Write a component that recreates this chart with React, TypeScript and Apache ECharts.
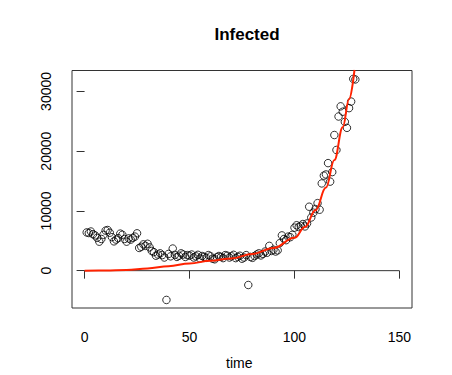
import React, { useEffect, useRef } from "react";
import * as echarts from "echarts";

const days = [
  1, 2, 3, 4, 5, 6, 7, 8, 9, 10, 11, 12, 13, 14, 15, 16, 17, 18, 19, 20,
  21, 22, 23, 24, 25, 26, 27, 28, 29, 30, 31, 32, 33, 34, 35, 36, 37, 38, 39, 40,
  41, 42, 43, 44, 45, 46, 47, 48, 49, 50, 51, 52, 53, 54, 55, 56, 57, 58, 59, 60,
  61, 62, 63, 64, 65, 66, 67, 68, 69, 70, 71, 72, 73, 74, 75, 76, 77, 78, 79, 80,
  81, 82, 83, 84, 85, 86, 87, 88, 89, 90, 91, 92, 93, 94, 95, 96, 97, 98, 99, 100,
  101, 102, 103, 104, 105, 106, 107, 108, 109, 110, 111, 112, 113, 114, 115, 116, 117, 118, 119, 120,
  121, 122, 123, 124, 125, 126, 127, 128, 129,
];

const infected = [
  6400, 6300, 6550, 6100, 5900, 5500, 4850, 5300, 6000, 6700, 6800, 6350, 5600, 4900, 5200, 5450, 6200, 6000, 5300, 4850,
  5400, 5200, 5500, 5700, 6250, 3800, 4000, 4400, 4150, 4500, 3900, 3300, 3100, 2500, 2700, 2900, 2600, 2200, -4900, 2800,
  2400, 3700, 2650, 2300, 2500, 2900, 2700, 2300, 2600, 2500, 2700, 2200, 2400, 2650, 2050, 2450, 2300, 2150, 2600, 2400,
  2000, 1900, 2250, 2450, 2300, 2100, 2600, 2500, 2200, 2400, 2650, 2100, 2300, 2500, 2000, 2200, 2600, -2400, 2300, 2150,
  2450, 2700, 2900, 2550, 2800, 3200, 3000, 4150, 3300, 3500, 3200, 3400, 4600, 5900, 5300, 5100, 5700, 5600, 6000, 7200,
  7600, 7300, 7500, 7800, 7400, 7900, 10700, 8900, 9700, 10300, 11300, 10200, 14600, 15900, 16100, 18000, 14900, 16500, 22700, 20200,
  25800, 27500, 26600, 24900, 23900, 27200, 28300, 32100, 32000,
];

const fitDays = [0, 10, 20, 30, 40, 50, 60, 70, 80, 90, 100, 105, 110, 115, 119, 123, 126, 128.6];
const fitValues = [0, 20, 120, 380, 750, 1200, 1650, 2050, 2800, 3800, 5500, 7300, 10100, 13900, 18500, 24000, 28700, 33600];

const baseLineX = [0, 150];
const baseLineY = [0, 0];

const xTicks = [0, 50, 100, 150];
const yTicks = [0, 10000, 20000, 30000];

const FONT = "Liberation Sans, Arial, Helvetica, sans-serif";

export default function App() {
  const ref = useRef<HTMLDivElement>(null);

  useEffect(() => {
    if (!ref.current) return;
    const chart = echarts.init(ref.current, undefined, { renderer: "svg" });
    chart.setOption({
      animation: false,
      backgroundColor: "#ffffff",
      textStyle: { fontFamily: FONT },
      title: {
        text: "Infected",
        left: 242,
        top: 21,
        textAlign: "center",
        textStyle: { fontSize: 17, fontWeight: "bold", color: "#000", fontFamily: FONT },
      },
      graphic: [
        {
          type: "text",
          left: 226,
          top: 356,
          style: { text: "time", fontSize: 14, fill: "#000", fontFamily: FONT },
        },
      ],
      grid: {
        left: 72,
        right: 40,
        top: 70.5,
        bottom: 67,
        show: true,
        borderColor: "#333",
        borderWidth: 1,
        backgroundColor: "transparent",
      },
      xAxis: {
        type: "value",
        min: -6,
        max: 156,
        axisLine: { show: false },
        splitLine: { show: false },
        axisTick: {
          show: true,
          inside: false,
          length: 8,
          customValues: xTicks,
          lineStyle: { color: "#333", width: 1 },
        },
        axisLabel: {
          customValues: xTicks,
          margin: 22,
          fontSize: 14,
          color: "#000",
          fontFamily: FONT,
          formatter: (v: number) => String(v),
        },
      },
      yAxis: {
        type: "value",
        min: -6250,
        max: 33500,
        axisLine: { show: false },
        splitLine: { show: false },
        axisTick: {
          show: true,
          inside: false,
          length: 8,
          customValues: yTicks,
          lineStyle: { color: "#333", width: 1 },
        },
        axisLabel: {
          customValues: yTicks,
          rotate: 90,
          margin: 19,
          fontSize: 14,
          color: "#000",
          fontFamily: FONT,
          formatter: (v: number) => String(v),
        },
      },
      series: [
        {
          type: "scatter",
          data: days.map((d, i) => [d, infected[i]]),
          symbol: "circle",
          symbolSize: 7.5,
          itemStyle: { color: "rgba(0,0,0,0)", borderColor: "#000", borderWidth: 1 },
          silent: true,
        },
        {
          type: "line",
          data: baseLineX.map((x, i) => [x, baseLineY[i]]),
          symbol: "none",
          lineStyle: { color: "#333", width: 1 },
          silent: true,
        },
        {
          type: "line",
          data: fitDays.map((x, i) => [x, fitValues[i]]),
          symbol: "none",
          smooth: 0.4,
          smoothMonotone: "x",
          clip: true,
          lineStyle: { color: "#ff2200", width: 2 },
          silent: true,
        },
      ],
    });
    return () => chart.dispose();
  }, []);

  return (
    <div
      ref={ref}
      style={{ position: "fixed", left: 0, top: 0, width: 452, height: 375, background: "#fff" }}
    />
  );
}
